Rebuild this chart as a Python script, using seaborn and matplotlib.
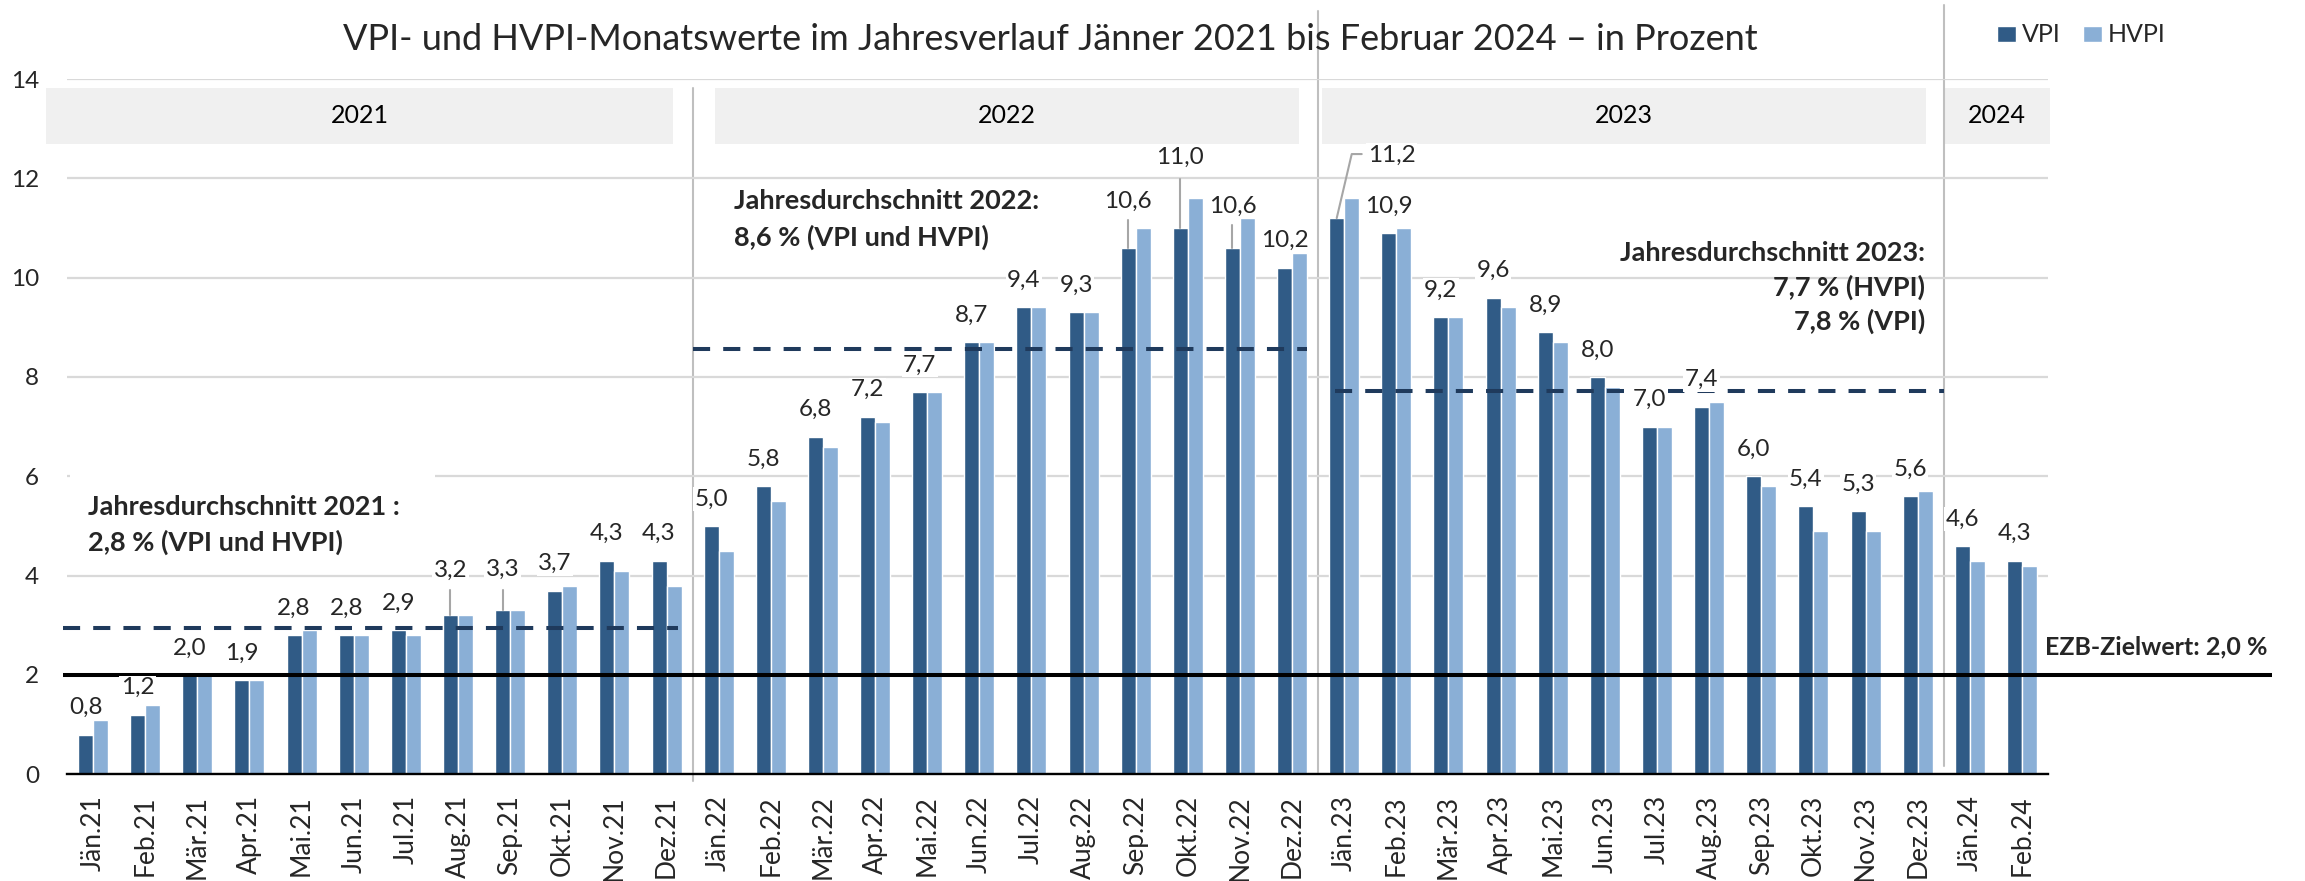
import matplotlib
matplotlib.use("Agg")
import matplotlib.pyplot as plt
from matplotlib.patches import Rectangle
import numpy as np
import pandas as pd
import seaborn as sns

# ---------------- data ----------------
months = ['Jän.21', 'Feb.21', 'Mär.21', 'Apr.21', 'Mai.21', 'Jun.21', 'Jul.21', 'Aug.21',
          'Sep.21', 'Okt.21', 'Nov.21', 'Dez.21',
          'Jän.22', 'Feb.22', 'Mär.22', 'Apr.22', 'Mai.22', 'Jun.22', 'Jul.22', 'Aug.22',
          'Sep.22', 'Okt.22', 'Nov.22', 'Dez.22',
          'Jän.23', 'Feb.23', 'Mär.23', 'Apr.23', 'Mai.23', 'Jun.23', 'Jul.23', 'Aug.23',
          'Sep.23', 'Okt.23', 'Nov.23', 'Dez.23',
          'Jän.24', 'Feb.24']
vpi = [0.8, 1.2, 2.0, 1.9, 2.8, 2.8, 2.9, 3.2, 3.3, 3.7, 4.3, 4.3,
       5.0, 5.8, 6.8, 7.2, 7.7, 8.7, 9.4, 9.3, 10.6, 11.0, 10.6, 10.2,
       11.2, 10.9, 9.2, 9.6, 8.9, 8.0, 7.0, 7.4, 6.0, 5.4, 5.3, 5.6,
       4.6, 4.3]
hvpi = [1.1, 1.4, 2.0, 1.9, 2.9, 2.8, 2.8, 3.2, 3.3, 3.8, 4.1, 3.8,
        4.5, 5.5, 6.6, 7.1, 7.7, 8.7, 9.4, 9.3, 11.0, 11.6, 11.2, 10.5,
        11.6, 11.0, 9.2, 9.4, 8.7, 7.8, 7.0, 7.5, 5.8, 4.9, 4.9, 5.7,
        4.3, 4.2]
series_names = ['VPI', 'HVPI']
years = ['2021', '2022', '2023', '2024']
year_avg = [2.94, 8.57, 7.71]          # drawn level of the dashed average lines
ezb_target = 2.0
yticks = [0, 2, 4, 6, 8, 10, 12, 14]

title = 'VPI- und HVPI-Monatswerte im Jahresverlauf Jänner 2021 bis Februar 2024 – in Prozent'
ann2021 = ['Jahresdurchschnitt 2021 :', '2,8 % (VPI und HVPI)']
ann2022 = ['Jahresdurchschnitt 2022:', '8,6 % (VPI und HVPI)']
ann2023 = ['Jahresdurchschnitt 2023:', '7,7 % (HVPI)', '7,8 % (VPI)']
ezb_text = 'EZB-Zielwert: 2,0 %'

# ---------------- style ----------------
sns.set_style('white')
plt.rcParams['font.family'] = ['Lato', 'DejaVu Sans']

C_VPI = '#305b86'
C_HVPI = '#8aafd6'
C_DASH = '#1f3a5c'
C_GRID = '#d9d9d9'
C_SEP = '#bfbfbf'
C_BAND = '#f0f0f0'

W, H = 2305, 881
fig = plt.figure(figsize=(W / 100, H / 100), dpi=100)
ax = fig.add_axes([67 / W, (H - 774.3) / H, (2048 - 67) / W, (774.3 - 79) / H])

df = pd.DataFrame({
    'Monat': months * 2,
    'Index': [series_names[0]] * len(months) + [series_names[1]] * len(months),
    'Wert': vpi + hvpi,
})
sns.barplot(data=df, x='Monat', y='Wert', hue='Index', order=months,
            hue_order=series_names, palette=[C_VPI, C_HVPI], saturation=1,
            width=0.575, gap=0, errorbar=None, ax=ax)

ax.set_xlim(-0.5, len(months) - 0.5)
ax.set_ylim(0, 14)
ax.set_yticks(yticks)
ax.set_xlabel('')
ax.set_ylabel('')
ax.set_axisbelow(True)
ax.yaxis.grid(True, color=C_GRID, lw=1.6)
ax.xaxis.grid(False)
for s in ['top', 'right', 'left']:
    ax.spines[s].set_visible(False)
ax.spines['bottom'].set_color('black')
ax.spines['bottom'].set_linewidth(1.7)
ax.spines['bottom'].set_zorder(3)
ax.tick_params(axis='x', length=0, pad=15, labelsize=19, labelrotation=90)
ax.tick_params(axis='y', length=0, pad=20, labelsize=17.5)

# legend
handles, labels = ax.get_legend_handles_labels()
ax.get_legend().remove()
fig.legend(handles, labels, loc='center left', bbox_to_anchor=(1997 / W, 1 - 35 / H),
           frameon=False, ncol=2, fontsize=18, handlelength=0.75, handleheight=0.62,
           handletextpad=0.25, columnspacing=0.9, borderpad=0, borderaxespad=0)

# helper: figure pixel (top-left origin) -> data coords
def px2data(xp, yp):
    return ax.transData.inverted().transform((xp, H - yp))

def offset(x, y, dxp, dyp):
    X, Y = ax.transData.transform((x, y))
    return ax.transData.inverted().transform((X + dxp, Y + dyp))

# year bands
band_spans = [(-0.9, 11.12), (11.93, 23.13), (23.57, 35.16), (35.52, 37.53)]
band_y0, band_y1 = 12.69, 13.82
for yr, (a, b) in zip(years, band_spans):
    ax.add_patch(Rectangle((a, band_y0), b - a, band_y1 - band_y0, facecolor=C_BAND,
                           edgecolor='none', clip_on=False, zorder=0.2))
    ax.text((a + b) / 2, (band_y0 + band_y1) / 2, yr, ha='center', va='center',
            fontsize=18, color='black', zorder=2)

# year separators
for xs, y0, y1 in [(11.5, -0.135, 13.82), (23.5, 0.0, 15.37), (35.5, 0.17, 15.49)]:
    ax.plot([xs, xs], [y0, y1], color=C_SEP, lw=1.5, clip_on=False, zorder=0.3)

# white box behind 2021 annotation
ax.add_patch(Rectangle((-0.44, 4.3), 7.0, 1.9, facecolor='white', edgecolor='none', zorder=0.8))

# dashed yearly averages
avg_spans = [(-0.575, 11.22), (11.5, 23.28), (23.82, 35.5)]
for lvl, (a, b) in zip(year_avg, avg_spans):
    ln, = ax.plot([a, b], [lvl, lvl], color=C_DASH, lw=2.9, clip_on=False, zorder=4,
                  solid_capstyle='butt', dash_capstyle='butt')
    ln.set_dashes([4.25, 3.25])

# EZB target line
ax.plot([-0.575, 41.79], [ezb_target, ezb_target], color='black', lw=2.9,
        clip_on=False, zorder=4, solid_capstyle='butt')
ex, ey = px2data(2045, 647)
ax.text(ex, ey, ezb_text, ha='left', va='center', fontsize=18, fontweight='bold',
        clip_on=False, zorder=5)

# value labels (VPI)
LBL = 17.5
bbox = dict(facecolor='white', edgecolor='none', pad=1)
leaders = {7: (45, 25), 8: (41, 20), 20: (47, 28), 21: (71, 49), 22: (42, 23)}
vpi_bars = ax.containers[0]
for i, (patch, v) in enumerate(zip(vpi_bars, vpi)):
    xc = patch.get_x() + patch.get_width() / 2
    top = patch.get_height()
    txt = f'{v:.1f}'.replace('.', ',')
    if i == 24:
        p0 = (xc, top)
        p1 = offset(xc, top, 15, 64)
        p2 = offset(xc, top, 25, 64)
        ax.plot([p0[0], p1[0], p2[0]], [p0[1], p1[1], p2[1]], color='#a6a6a6', lw=1.5,
                zorder=3, clip_on=False)
        tx, ty = offset(xc, top, 31, 63)
        ax.text(tx, ty, txt, ha='left', va='center', fontsize=LBL, zorder=5, bbox=bbox)
        continue
    if i in leaders:
        dy, ll = leaders[i]
        p1 = offset(xc, top, 0, ll)
        ax.plot([xc, xc], [top, p1[1]], color='#a6a6a6', lw=1.5, zorder=3)
    else:
        dy = 27
    tx, ty = offset(xc, top, 0, dy)
    ax.text(tx, ty, txt, ha='center', va='center', fontsize=LBL, zorder=5, bbox=bbox)

# annotations
ANN = 19.5
for txt, yp in zip(ann2021, [507, 542]):
    x, y = px2data(88, yp)
    ax.text(x, y, txt, ha='left', va='center', fontsize=ANN, fontweight='bold', zorder=5)
for txt, yp in zip(ann2022, [201, 237]):
    x, y = px2data(734, yp)
    ax.text(x, y, txt, ha='left', va='center', fontsize=ANN, fontweight='bold', zorder=5)
for txt, yp in zip(ann2023, [253, 287, 321]):
    x, y = px2data(1925, yp)
    ax.text(x, y, txt, ha='right', va='center', fontsize=ANN, fontweight='bold', zorder=5)

# title
fig.text(1050 / W, 1 - 40 / H, title, ha='center', va='center', fontsize=26)

fig.savefig('out.png', dpi=100)
